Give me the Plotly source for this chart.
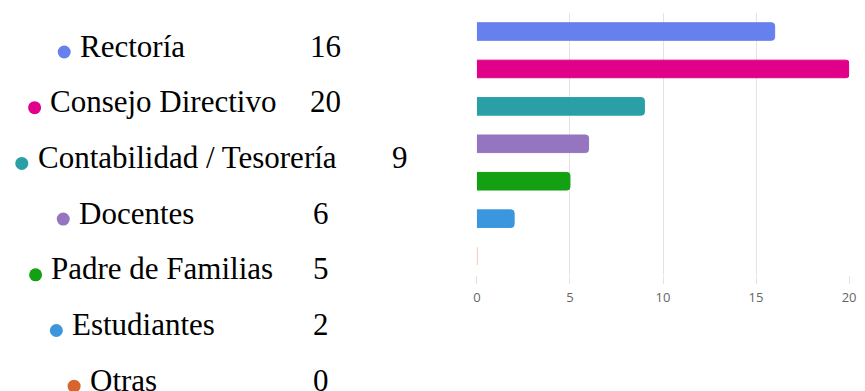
import plotly.graph_objects as go

# ---- data ----
categories = ["Rectoría", "Consejo Directivo", "Contabilidad / Tesorería",
              "Docentes", "Padre de Familias", "Estudiantes", "Otras"]
values = [16, 20, 9, 6, 5, 2, 0]
x_ticks = [0, 5, 10, 15, 20]

# ---- style ----
colors = ["#6680ee", "#e0008a", "#2aa0a6", "#9575bf", "#13a013", "#3c96dd", "#d9652e"]
line_colors = ["#6680ee", "#e0008a", "#2aa0a6", "#9575bf", "#13a013", "#3c96dd", "#eab7a3"]
W, H = 865, 391
label_x = [75, 45, 32, 74, 46, 67, 85]        # left edge of label text (px)
number_x = [343, 343, 411, 331, 331, 331, 331]  # right edge of number (px)
dot_x = [61, 31, 18, 60, 32, 53, 71]          # dot centre (px)
row_y0, row_step = 46, 55.7                   # text row centres (px from top)
dot_dy = 6

fig = go.Figure()

fig.add_trace(go.Bar(
    y=categories, x=values, orientation="h",
    marker=dict(color=colors, line=dict(color=line_colors, width=1)),
    width=0.47, hoverinfo="skip", showlegend=False,
    xaxis="x", yaxis="y",
))

row_y = [row_y0 + i * row_step for i in range(len(categories))]

fig.add_trace(go.Scatter(
    x=dot_x, y=[y + dot_dy for y in row_y], mode="markers",
    marker=dict(color=colors, size=13, line=dict(width=0)),
    xaxis="x2", yaxis="y2", showlegend=False, hoverinfo="skip",
))

serif = dict(family="Liberation Serif, Times New Roman, serif", size=31, color="#000000")
annotations = []
for i, (cat, val) in enumerate(zip(categories, values)):
    annotations.append(dict(
        x=label_x[i], y=row_y[i], xref="x2", yref="y2", text=cat,
        showarrow=False, xanchor="left", yanchor="middle", font=serif))
    annotations.append(dict(
        x=number_x[i], y=row_y[i], xref="x2", yref="y2", text=str(val),
        showarrow=False, xanchor="right", yanchor="middle", font=serif))

fig.update_layout(
    width=W, height=H,
    margin=dict(l=0, r=0, t=0, b=0),
    paper_bgcolor="white", plot_bgcolor="white",
    barcornerradius=3,
    xaxis=dict(
        domain=[479 / W, 856 / W], range=[0, 20],
        tickvals=x_ticks, showgrid=True, gridcolor="#e3e3e3", gridwidth=1,
        zeroline=False, showline=False,
        ticks="outside", ticklen=8, tickcolor="#e3e3e3",
        ticklabelstandoff=3,
        tickfont=dict(family="Open Sans, Segoe UI, sans-serif", size=13, color="#666666"),
        fixedrange=True,
    ),
    yaxis=dict(
        domain=[1 - 274.8 / H, 1 - 12.8 / H],
        type="category", categoryorder="array", categoryarray=categories,
        range=[len(categories) - 0.5, -0.5],
        showticklabels=False, showgrid=False, zeroline=False, showline=False, ticks="",
        fixedrange=True,
    ),
    xaxis2=dict(domain=[0, 0.5], range=[0, W * 0.5], visible=False, fixedrange=True),
    yaxis2=dict(domain=[0, 1], range=[H, 0], visible=False, anchor="x2", fixedrange=True),
    annotations=annotations,
)

fig.write_html("out.html")
